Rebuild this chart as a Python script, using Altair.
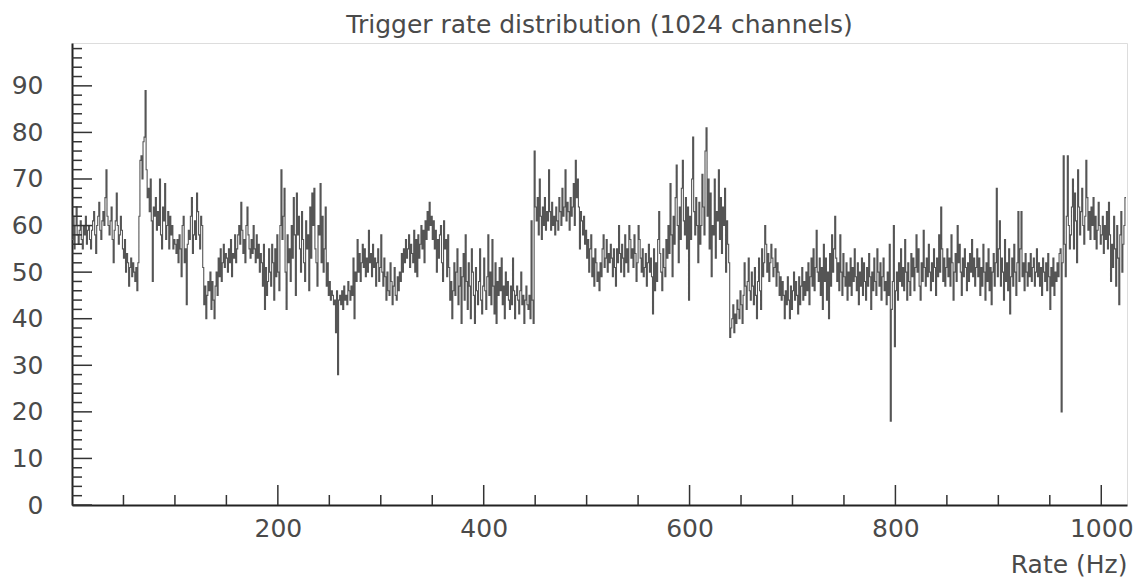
import altair as alt
import pandas as pd

# Trigger rate per channel (1024 channels)
rates = [
    57,62,55,60,64,58,56,59,61,57,55,60,58,62,56,59,
    60,57,55,59,61,63,58,54,60,62,65,59,57,61,63,60,
    66,72,62,60,58,61,64,57,52,59,61,67,60,56,58,62,
    59,55,53,57,50,54,52,47,51,53,49,52,50,48,51,46,
    52,62,74,75,70,78,79,89,72,66,68,63,70,61,48,64,
    62,66,59,63,60,70,58,55,64,61,69,57,60,63,55,62,
    58,60,55,57,56,54,57,52,58,55,49,60,62,52,55,43,
    56,59,57,62,66,54,58,61,57,67,63,58,55,62,60,51,
    43,47,40,45,48,46,50,42,48,44,40,47,50,45,53,49,
    55,48,52,56,51,54,53,50,55,52,57,49,54,53,58,52,
    55,58,60,56,65,59,54,57,52,60,64,58,55,53,57,54,
    60,55,52,58,53,56,50,54,52,47,56,42,51,45,48,55,
    50,47,56,52,44,55,49,58,50,46,60,72,57,62,68,50,
    42,58,52,55,48,60,53,66,58,45,67,58,62,55,50,63,
    57,52,48,61,55,58,46,64,53,67,60,68,55,52,47,60,
    58,69,52,62,50,55,64,47,52,45,48,44,46,45,43,44,
    37,46,28,44,45,43,46,42,47,44,45,43,48,46,44,47,
    45,53,40,50,48,57,50,54,48,52,56,51,55,49,53,50,
    59,52,54,49,56,51,53,47,52,55,48,51,58,50,47,53,
    49,44,50,46,45,52,48,43,47,51,45,44,49,46,50,48,
    54,50,55,52,57,53,55,58,51,56,54,52,59,50,57,49,
    58,53,56,60,55,59,52,61,57,63,59,65,60,62,57,61,
    55,59,50,57,53,58,60,52,48,61,55,57,49,58,51,44,
    48,40,46,52,45,50,55,43,47,51,39,49,54,44,58,48,
    42,52,47,40,55,50,45,39,51,46,43,48,55,44,41,47,
    53,46,42,49,58,45,50,43,57,47,41,52,39,48,45,51,
    46,53,43,47,40,50,45,48,44,42,47,43,53,46,40,45,
    47,44,41,46,50,43,45,39,44,47,43,42,45,40,61,44,
    39,76,64,61,66,58,70,62,57,64,60,66,59,63,61,72,
    63,59,65,60,62,58,64,61,59,66,63,60,68,62,64,72,
    61,65,63,59,66,62,64,69,60,74,66,70,64,55,63,61,
    58,62,56,59,53,57,50,55,58,49,53,47,55,52,48,50,
    46,52,49,55,58,51,53,57,50,54,52,56,53,49,55,51,
    47,55,52,60,54,50,56,53,49,58,52,55,50,60,57,53,
    55,51,58,54,48,52,60,57,53,50,55,49,51,54,47,52,
    56,50,53,49,41,55,46,52,48,57,63,54,50,46,55,51,
    49,57,53,60,54,69,58,49,62,56,66,73,60,52,64,57,
    68,74,61,58,66,55,64,44,62,57,70,79,63,58,66,60,
    52,65,56,60,71,64,58,76,81,62,70,55,67,49,60,58,
    70,53,63,61,72,57,66,54,64,60,68,50,61,56,52,36,
    38,40,43,37,41,39,44,42,40,46,43,39,45,52,47,42,
    48,53,46,44,50,47,43,51,45,40,48,53,46,42,55,49,
    52,60,56,50,54,48,52,56,53,49,51,55,47,52,50,45,
    49,44,48,45,40,46,43,49,44,40,47,42,46,50,44,48,
    45,41,49,43,47,51,44,48,45,50,46,52,43,49,53,47,
    55,46,51,59,50,48,53,45,51,42,56,48,53,44,50,40,
    54,47,58,50,55,62,53,48,52,46,58,50,45,54,49,47,
    52,44,50,47,53,45,51,48,55,49,46,52,43,50,47,53,
    45,52,48,44,51,47,54,49,42,50,46,53,48,45,55,50,
    47,52,44,49,53,46,48,43,50,45,56,18,42,48,60,34,
    46,50,44,52,48,55,47,51,46,57,50,44,52,48,45,54,
    49,53,46,51,58,50,55,47,44,52,48,59,51,47,53,49,
    56,50,46,52,48,55,51,45,53,49,58,50,64,55,48,53,
    47,51,55,49,53,47,58,52,44,50,54,48,60,52,56,50,
    45,53,49,55,51,46,52,48,54,50,57,49,53,47,51,55,
    49,53,45,51,47,56,50,44,52,48,55,46,51,43,50,54,
    47,52,68,49,55,61,47,53,50,44,57,48,52,46,55,41,
    49,53,47,56,50,45,52,63,48,55,63,49,52,46,54,50,
    47,52,49,54,48,51,53,47,50,55,49,52,47,51,45,53,
    50,48,52,46,54,49,42,51,47,53,45,50,48,52,49,54,
    55,20,52,75,56,49,62,75,60,55,58,64,70,55,67,61,
    52,72,64,58,63,68,60,56,62,74,66,59,63,57,64,60,
    66,57,62,55,59,65,60,56,58,62,54,60,57,63,55,65,
    58,48,56,51,62,55,47,60,53,43,58,63,50,56,60,66,
]

x_major = [200, 400, 600, 800, 1000]
x_minor = [50, 100, 150, 250, 300, 350, 450, 500, 550, 650, 700, 750, 850, 900, 950]
y_major = [0, 10, 20, 30, 40, 50, 60, 70, 80, 90]
y_minor = [v for v in range(2, 100, 2) if v % 10 != 0]

TITLE = "Trigger rate distribution (1024 channels)"
XTITLE = "Rate (Hz)"

W, H = 1055, 462
FONT = "DejaVu Sans"
TXT = "#4a4a4a"

chans = list(range(len(rates))) + [len(rates)]
vals = rates + [rates[-1]]
df = pd.DataFrame({"channel": chans, "rate": vals})

xscale = alt.Scale(domain=[0, 1025], nice=False, zero=False)
yscale = alt.Scale(domain=[0, 99.2], nice=False)

line = alt.Chart(df).mark_line(
    interpolate="step-after", color="#555555", strokeWidth=1.1
).encode(
    x=alt.X("channel:Q", scale=xscale,
            axis=alt.Axis(values=x_major, format="d", ticks=False, grid=False, domain=True,
                          domainColor="#222", domainWidth=2, labelPadding=11,
                          labelFontSize=25, labelFont=FONT, labelColor=TXT,
                          title=XTITLE, titleFont=FONT, titleFontSize=25,
                          titleFontWeight="normal", titleColor=TXT,
                          titleAnchor="end", titleAlign="right",
                          titleBaseline="alphabetic", titleX=W, titleY=67)),
    y=alt.Y("rate:Q", scale=yscale,
            axis=alt.Axis(values=y_major, ticks=False, grid=False, domain=True,
                          domainColor="#222", domainWidth=2, labelPadding=29,
                          labelFontSize=25, labelFont=FONT, labelColor=TXT,
                          title=None)),
)

xmaj = alt.Chart(pd.DataFrame({"v": x_major})).mark_rule(color="#333", strokeWidth=1.5).encode(
    x=alt.X("v:Q", scale=xscale), y=alt.value(H), y2=alt.value(H - 20))
xmin = alt.Chart(pd.DataFrame({"v": x_minor})).mark_rule(color="#333", strokeWidth=1.5).encode(
    x=alt.X("v:Q", scale=xscale), y=alt.value(H), y2=alt.value(H - 10))
ymaj = alt.Chart(pd.DataFrame({"v": y_major})).mark_rule(color="#333", strokeWidth=1.5).encode(
    y=alt.Y("v:Q", scale=yscale), x=alt.value(0), x2=alt.value(20))
ymin = alt.Chart(pd.DataFrame({"v": y_minor})).mark_rule(color="#333", strokeWidth=1.5).encode(
    y=alt.Y("v:Q", scale=yscale), x=alt.value(0), x2=alt.value(10))

chart = alt.layer(line, xmaj, xmin, ymaj, ymin).properties(
    width=W, height=H,
    title=alt.TitleParams(TITLE, font=FONT, fontSize=25, fontWeight="normal",
                          color=TXT, anchor="middle", offset=5),
    autosize=alt.AutoSizeParams(type="none"),
    padding={"left": 64, "top": 35, "right": 11, "bottom": 73},
).configure_view(stroke="#9a9a9a", strokeWidth=2).configure(background="white")

chart.save("out.html", embed_options={"renderer": "svg", "actions": False})
